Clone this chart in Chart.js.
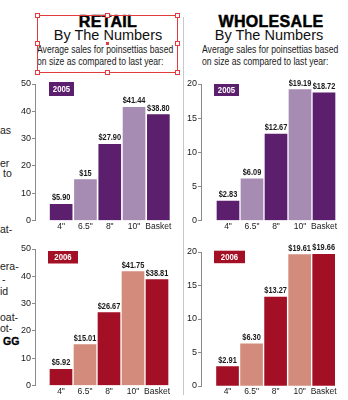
<!DOCTYPE html>
<html>
<head>
<meta charset="utf-8">
<script src="https://cdn.jsdelivr.net/npm/chart.js@4.4.0/dist/chart.umd.min.js"></script>
<style>
  body { margin: 0; background: #fff; width: 348px; height: 400px; position: relative; overflow: hidden;
         font-family: "Liberation Sans", Arial, sans-serif; color: #1a1a1a; }
  .t { position: absolute; white-space: nowrap; }
  .head { font-weight: bold; font-size: 16px; line-height: 16px; text-align: center; color: #000;
          -webkit-text-stroke: 0.5px #000; letter-spacing: 0.3px; }
  .sub { font-size: 14.5px; line-height: 16px; text-align: center; color: #111; }
  .desc { font-size: 10.5px; line-height: 12px; color: #1a1a1a; transform: scaleX(0.82); transform-origin: 0 0; }
  .frag { font-size: 10.5px; line-height: 12px; color: #222; }
  canvas { position: absolute; }
  .box { position: absolute; left: 37px; top: 15px; width: 141px; height: 58px; border: 1px solid #e33a3d; box-sizing: border-box; }
  .h { position: absolute; width: 5px; height: 5px; border: 1px solid #e33a3d; background: #fff; box-sizing: border-box; }
</style>
</head>
<body>
<!-- cut-off article text on the far left -->
<div class="t frag" style="left:0;top:124px">as</div>
<div class="t frag" style="left:0;top:157px">er</div>
<div class="t frag" style="left:3px;top:167px">to</div>
<div class="t frag" style="left:0;top:223px">at-</div>
<div class="t frag" style="left:0;top:260px">era-</div>
<div class="t frag" style="left:2px;top:273px">-</div>
<div class="t frag" style="left:0;top:285px">id</div>
<div class="t frag" style="left:0;top:311px">oat-</div>
<div class="t frag" style="left:0;top:322px">ot-</div>
<div class="t" style="left:3px;top:335px;font-weight:bold;font-size:10.5px;line-height:12px;color:#000;-webkit-text-stroke:0.3px #000">GG</div>

<div class="t head" style="left:58px;top:13.5px;width:100px">RETAIL</div>
<div class="t sub" style="left:38px;top:27px;width:140px">By The Numbers</div>
<div class="t desc" style="left:37px;top:43px">Average sales for poinsettias based<br>on size as compared to last year:</div>

<div class="t head" style="left:211px;top:13.5px;width:120px">WHOLESALE</div>
<div class="t sub" style="left:199px;top:27px;width:140px">By The Numbers</div>
<div class="t desc" style="left:202px;top:43px">Average sales for poinsettias based<br>on size as compared to last year:</div>

<div style="position:absolute;left:183px;top:17px;width:1px;height:378px;background:#c9c9c9"></div>

<canvas id="retail05" width="180" height="160" style="left:0;top:75px"></canvas>
<canvas id="whole05" width="164" height="160" style="left:184px;top:75px"></canvas>
<canvas id="retail06" width="180" height="160" style="left:0;top:240px"></canvas>
<canvas id="whole06" width="164" height="160" style="left:184px;top:240px"></canvas>

<!-- selection frame around the retail heading -->
<div class="box"></div>
<div class="h" style="left:35px;top:13px"></div>
<div class="h" style="left:105px;top:13px"></div>
<div class="h" style="left:175px;top:13px"></div>
<div class="h" style="left:35px;top:41px"></div>
<div class="h" style="left:175px;top:41px"></div>
<div class="h" style="left:35px;top:70px"></div>
<div class="h" style="left:105px;top:70px"></div>
<div class="h" style="left:175px;top:70px"></div>
<div style="position:absolute;left:106px;top:42px;width:3px;height:3px;background:#e33a3d"></div>

<script>
const sizes = ['4"', '6.5"', '8"', '10"', 'Basket'];
const retail2005 = [5.90, 15, 27.90, 41.44, 38.80];
const retail2006 = [5.92, 15.01, 26.67, 41.75, 38.81];
const wholesale2005 = [2.83, 6.09, 12.67, 19.19, 18.72];
const wholesale2006 = [2.91, 6.30, 13.27, 19.61, 19.66];

const purple = ['#5c1f6e', '#a68bb3'];
const red = ['#a30f24', '#d38c7b'];

const sans = '"Liberation Sans", Arial, sans-serif';

const price = v => '$' + (Number.isInteger(v) ? v : v.toFixed(2));

//squeezed text, the print uses a condensed face
function narrowText(ctx, txt, x, y, sx) {
  ctx.save();
  ctx.translate(x, y);
  ctx.scale(sx, 1);
  ctx.fillText(txt, 0, 0);
  ctx.restore();
}

//labels above bars and the year badge
const barText = {
  id: 'barText',
  afterDatasetsDraw(chart, args, opts) {
    const ctx = chart.ctx;
    const ds = chart.data.datasets[0];
    ctx.save();
    ctx.font = 'bold 9.5px ' + sans;
    ctx.fillStyle = '#1a1a1a';
    ctx.textAlign = 'center';
    ctx.textBaseline = 'alphabetic';
    chart.getDatasetMeta(0).data.forEach((bar, i) => {
      narrowText(ctx, price(ds.data[i]), bar.x, bar.y - 4, 0.78);
    });
    const a = chart.chartArea;
    const b = opts.badge;
    ctx.fillStyle = opts.color;
    ctx.fillRect(a.left + b.x, a.top + b.y, b.w, b.h);
    ctx.fillStyle = '#fff';
    ctx.textBaseline = 'middle';
    narrowText(ctx, opts.year, a.left + b.x + b.w / 2, a.top + b.y + b.h / 2 + 0.5, 0.82);
    ctx.restore();
  }
};

function makeChart(id, values, c) {
  return new Chart(document.getElementById(id), {
    type: 'bar',
    plugins: [barText],
    data: {
      labels: sizes,
      datasets: [{
        data: values,
        yAxisID: 'y',
        backgroundColor: values.map((v, i) => c.colors[i % 2]),
        barThickness: 22,
        borderWidth: 0
      }]
    },
    options: {
      responsive: false,
      animation: false,
      layout: { padding: { top: c.top, right: c.right, bottom: 0, left: 0 } },
      plugins: {
        legend: { display: false },
        tooltip: { enabled: false },
        barText: { year: c.year, color: c.colors[0], badge: c.badge }
      },
      scales: {
        x: {
          offset: true,
          afterFit: s => { s.height = c.xHeight; },
          grid: { display: false, drawTicks: false }, border: { display: false },
          ticks: { autoSkip: false, maxRotation: 0, padding: 1, color: '#1a1a1a', font: { family: sans, size: 8.5 } }
        },
        //the axis with its numbers, kept off the bars by the empty scale below
        y: {
          position: 'left', weight: 1,
          min: 0, max: c.yMax,
          afterFit: s => { s.width = c.yWidth; },
          grid: { drawOnChartArea: false, drawTicks: true, tickLength: 3, color: '#8a8a8a' },
          border: { display: true, color: '#8a8a8a', width: 1 },
          ticks: { stepSize: c.step, padding: 1, color: '#1a1a1a', font: { family: sans, size: 9 } }
        },
        gap: {
          type: 'linear', position: 'left', weight: 0,
          min: 0, max: c.yMax,
          afterFit: s => { s.width = c.gap; },
          grid: { display: false }, border: { display: false },
          ticks: { display: false }
        }
      }
    }
  });
}

makeChart('retail05', retail2005, {
  colors: purple, year: '2005', yMax: 50, step: 10, top: 9, right: 9.5, xHeight: 14.5, yWidth: 35, gap: 14,
  badge: { x: 0, y: -2, w: 25, h: 14 }
});
makeChart('whole05', wholesale2005, {
  colors: purple, year: '2005', yMax: 20, step: 5, top: 9, right: 12, xHeight: 14.5, yWidth: 17, gap: 15,
  badge: { x: -2, y: 0, w: 25, h: 12 }
});
makeChart('retail06', retail2006, {
  colors: red, year: '2006', yMax: 50, step: 10, top: 9, right: 11, xHeight: 14.5, yWidth: 35, gap: 14,
  badge: { x: -1, y: 2, w: 30, h: 12.5 }
});
makeChart('whole06', wholesale2006, {
  colors: red, year: '2006', yMax: 20, step: 5, top: 12, right: 12.3, xHeight: 14, yWidth: 17, gap: 14.5,
  badge: { x: -1.5, y: -1.3, w: 31, h: 12.5 }
});
</script>
</body>
</html>
